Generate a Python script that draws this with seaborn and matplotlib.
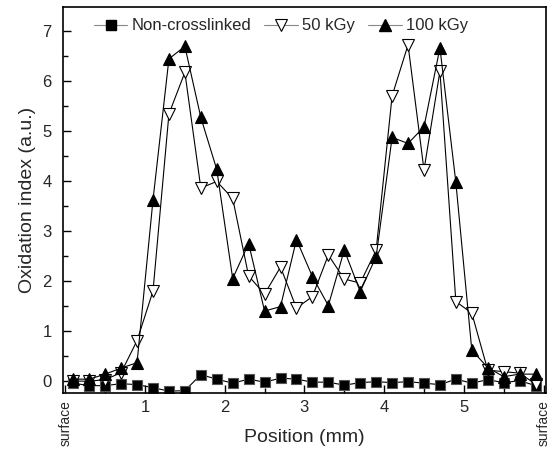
import matplotlib
matplotlib.use("Agg")
import matplotlib.pyplot as plt
from matplotlib.lines import Line2D
from matplotlib.ticker import MultipleLocator
import seaborn as sns
import pandas as pd

position = [0.1, 0.3, 0.5, 0.7, 0.9, 1.1, 1.3, 1.5, 1.7, 1.9,
            2.1, 2.3, 2.5, 2.7, 2.9, 3.1, 3.3, 3.5, 3.7, 3.9,
            4.1, 4.3, 4.5, 4.7, 4.9, 5.1, 5.3, 5.5, 5.7, 5.9]
non_crosslinked = [-0.04, -0.09, -0.09, -0.05, -0.07, -0.13, -0.2, -0.19, 0.13, 0.04,
                   -0.04, 0.04, -0.02, 0.06, 0.04, -0.02, -0.02, -0.08, -0.03, -0.01,
                   -0.03, -0.01, -0.04, -0.07, 0.04, -0.04, 0.03, -0.03, 0.01, -0.09]
kgy50 = [0.0, 0.0, 0.03, 0.17, 0.81, 1.8, 5.34, 6.17, 3.86, 3.99,
         3.65, 2.1, 1.74, 2.28, 1.46, 1.69, 2.52, 2.04, 1.96, 2.62,
         5.7, 6.72, 4.22, 6.19, 1.59, 1.36, 0.22, 0.19, 0.16, -0.06]
kgy100 = [0.04, 0.04, 0.14, 0.26, 0.37, 3.62, 6.44, 6.69, 5.27, 4.23,
          2.05, 2.75, 1.4, 1.49, 2.83, 2.09, 1.51, 2.62, 1.79, 2.49,
          4.87, 4.75, 5.08, 6.66, 3.97, 0.62, 0.27, 0.09, 0.14, 0.14]
series_names = ["Non-crosslinked", "50 kGy", "100 kGy"]
x_ticks = [0, 1, 2, 3, 4, 5, 6]
x_tick_labels = ["surface", "1", "2", "3", "4", "5", "surface"]
y_ticks = [0, 1, 2, 3, 4, 5, 6, 7]

sns.set_style("ticks")
plt.rcParams["font.family"] = ["Liberation Sans", "DejaVu Sans"]

fig = plt.figure(figsize=(5.52, 4.54), dpi=100)
ax = fig.add_axes([0.114, 0.134, 0.875, 0.851])

df = pd.DataFrame({"pos": position, "nc": non_crosslinked, "k50": kgy50, "k100": kgy100})

sns.lineplot(data=df, x="pos", y="nc", ax=ax, color="black", linewidth=0.8,
             marker="s", markersize=6.5, markerfacecolor="black",
             markeredgecolor="#555555", markeredgewidth=0.8)
sns.lineplot(data=df, x="pos", y="k50", ax=ax, color="black", linewidth=0.8,
             marker="v", markersize=9, markerfacecolor="white",
             markeredgecolor="black", markeredgewidth=0.8)
sns.lineplot(data=df, x="pos", y="k100", ax=ax, color="black", linewidth=0.8,
             marker="^", markersize=9, markerfacecolor="black",
             markeredgecolor="black", markeredgewidth=0.8)

ax.set_xlim(-0.03, 6.03)
ax.set_ylim(-0.24, 7.48)
ax.set_xticks(x_ticks)
ax.set_xticklabels(x_tick_labels, fontsize=12)
for i in (0, -1):
    lbl = ax.get_xticklabels()[i]
    lbl.set_rotation(90)
    lbl.set_fontsize(10)
    lbl.set_va("top")
ax.set_yticks(y_ticks)
ax.tick_params(axis="y", labelsize=12, pad=8)
ax.tick_params(axis="x", pad=5)
ax.xaxis.set_minor_locator(MultipleLocator(0.5))
ax.yaxis.set_minor_locator(MultipleLocator(0.5))
ax.tick_params(which="both", direction="in", top=False, right=False, color="black")
ax.tick_params(which="major", length=6, width=1)
ax.tick_params(which="minor", length=3.5, width=1)
for s in ax.spines.values():
    s.set_linewidth(1.2)
    s.set_color("black")

ax.set_xlabel("Position (mm)", fontsize=14)
ax.xaxis.set_label_coords(0.5, -0.092)
ax.set_ylabel("Oxidation index (a.u.)", fontsize=14)
ax.yaxis.set_label_coords(-0.055, 0.5)

handles = [
    Line2D([], [], color="#888888", linewidth=0.8, marker="s", markersize=6.5,
           markerfacecolor="black", markeredgecolor="black"),
    Line2D([], [], color="#888888", linewidth=0.8, marker="v", markersize=9,
           markerfacecolor="white", markeredgecolor="black", markeredgewidth=0.8),
    Line2D([], [], color="#888888", linewidth=0.8, marker="^", markersize=9,
           markerfacecolor="black", markeredgecolor="black"),
]
ax.legend(handles, series_names, loc="upper left", ncol=3, frameon=False,
          fontsize=12, handlelength=2.0, columnspacing=0.8, handletextpad=0.25,
          borderaxespad=0.3, bbox_to_anchor=(0.04, 1.0))

fig.savefig("out.png", dpi=100)
